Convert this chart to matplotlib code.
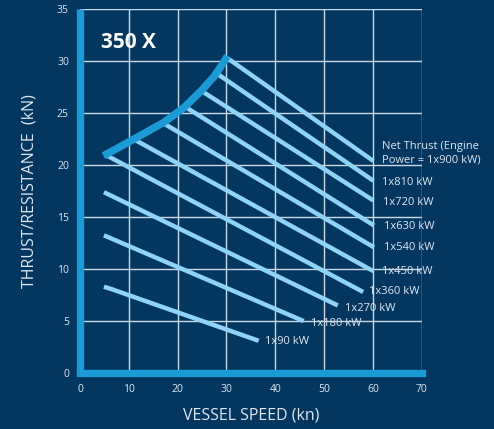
import matplotlib
matplotlib.use('Agg')
import matplotlib.pyplot as plt

# ---------------- data ----------------
speed_env = [4.8, 11.0, 17.1, 21.2, 24.7, 27.4, 29.0, 30.2]
thrust_env = [20.9, 22.5, 24.1, 25.5, 27.1, 28.5, 29.6, 30.5]

powers = [900, 810, 720, 630, 540, 450, 360, 270, 180, 90]
line_speeds = [
    [30.2, 60.1],
    [28.1, 60.1],
    [24.7, 60.1],
    [21.6, 60.2],
    [17.2, 60.2],
    [11.0, 60.1],
    [5.6, 58.0],
    [4.9, 52.8],
    [4.9, 45.8],
    [4.9, 6.3, 36.6],
]
line_thrusts = [
    [30.3, 20.4],
    [28.8, 18.5],
    [27.2, 16.6],
    [25.6, 14.2],
    [24.0, 12.1],
    [22.5, 9.8],
    [20.9, 7.8],
    [17.4, 6.5],
    [13.25, 5.0],
    [8.3, 8.1, 3.1],
]
labels = ['Net Thrust (Engine\nPower = 1x900 kW)'] + ['1x%d kW' % p for p in powers[1:]]

x_ticks = [0, 10, 20, 30, 40, 50, 60, 70]
y_ticks = [0, 5, 10, 15, 20, 25, 30, 35]

# ---------------- style ----------------
BG = '#03375f'
ENV = '#1a9bd8'
LINE = '#8fd3f7'
TXT = '#dfe8f0'
GRID = '#c9d9e6'
FONT = ['Open Sans', 'DejaVu Sans']

plt.rcParams['font.family'] = FONT

fig = plt.figure(figsize=(4.94, 4.29), dpi=100, facecolor=BG)
ax = fig.add_axes([0.162, 0.1305, 0.6917, 0.8478])
ax.set_facecolor(BG)

ax.set_xlim(0, 70)
ax.set_ylim(0, 35)
ax.set_xticks(x_ticks)
ax.set_yticks(y_ticks)
ax.grid(True, color=GRID, linewidth=1.0, zorder=0)
ax.set_axisbelow(True)

for side in ['top', 'right']:
    ax.spines[side].set_visible(False)
for side in ['left', 'bottom']:
    ax.spines[side].set_color(ENV)
    ax.spines[side].set_linewidth(5.3)
    ax.spines[side].set_zorder(5)
ax.spines['left'].set_capstyle('butt')
ax.spines['bottom'].set_capstyle('projecting')

ax.tick_params(axis='both', length=0, colors=TXT, labelsize=7.5)
ax.tick_params(axis='y', pad=8)
ax.tick_params(axis='x', pad=8)

for xs, ys in zip(line_speeds, line_thrusts):
    ax.plot(xs, ys, color=LINE, linewidth=3.2, solid_capstyle='butt', zorder=3)

ax.plot(speed_env, thrust_env, color=ENV, linewidth=5.4, solid_capstyle='butt',
        solid_joinstyle='round', zorder=4)

# label offsets (points) relative to line end
offsets = {900: (6.5, 5.5), 810: (6.5, -1), 720: (7, -1.5), 630: (7, -1), 540: (7, 0),
           450: (6.5, -0.3), 360: (4.5, 0), 270: (5, -2.3), 180: (5.5, -1.7), 90: (4.5, -0.8)}
for p, xs, ys, lab in zip(powers, line_speeds, line_thrusts, labels):
    dx, dy = offsets[p]
    ax.annotate(lab, xy=(xs[-1], ys[-1]), xytext=(dx, dy), textcoords='offset points',
                ha='left', va='center', color=TXT, fontsize=8, linespacing=1.35,
                annotation_clip=False, zorder=6)

ax.text(0.06, 0.937, '350 X', transform=ax.transAxes, color='white',
        fontsize=15, fontweight='bold', ha='left', va='top')

ax.set_xlabel('VESSEL SPEED (kn)', color=TXT, fontsize=11.5, labelpad=9)
ax.set_ylabel('THRUST/RESISTANCE  (kN)', color=TXT, fontsize=11.5, labelpad=14)

fig.savefig('out.png', dpi=100, facecolor=BG)
